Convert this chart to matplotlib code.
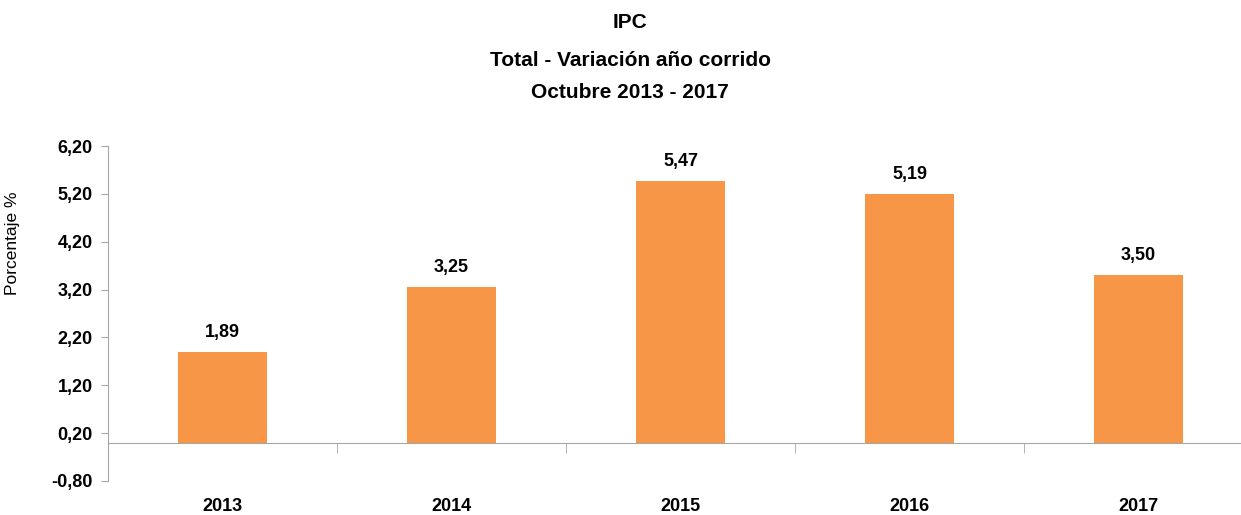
import numpy as np
import matplotlib.pyplot as plt
from matplotlib.ticker import FixedLocator

plt.rcParams['font.family'] = ['Liberation Sans Narrow', 'Liberation Sans', 'DejaVu Sans']

years = ["2013", "2014", "2015", "2016", "2017"]
values = [1.89, 3.25, 5.47, 5.19, 3.50]
yticks = [-0.80, 0.20, 1.20, 2.20, 3.20, 4.20, 5.20, 6.20]

bar_color = "#F79646"
axis_color = "#A6A6A6"

fig = plt.figure(figsize=(12.41, 5.15), dpi=100)
ax = fig.add_axes([108 / 1241, 34 / 515, 1145 / 1241, 335 / 515])

x = np.arange(len(years))
ax.bar(x, values, width=0.39, color=bar_color, zorder=2)

for xi, v in zip(x, values):
    ax.annotate(f"{v:.2f}".replace(".", ","), (xi, v), xytext=(0, 8),
                textcoords="offset points", ha="center", va="bottom",
                fontsize=13, fontweight="bold", color="black")

ax.set_xlim(-0.5, len(years) - 0.5)
ax.set_ylim(-0.80, 6.20)
ax.set_yticks(yticks)
ax.set_yticklabels([f"{t:.2f}".replace(".", ",") for t in yticks],
                   fontsize=13, fontweight="bold")

# category axis sits on zero
ax.spines["bottom"].set_position(("data", 0))
ax.spines["bottom"].set_color(axis_color)
ax.spines["left"].set_color(axis_color)
ax.spines["top"].set_visible(False)
ax.spines["right"].set_visible(False)

ax.set_xticks(x)
ax.set_xticklabels(years, fontsize=13, fontweight="bold")
ax.tick_params(axis="x", which="major", length=0, pad=40)
ax.xaxis.set_minor_locator(FixedLocator(np.arange(0.5, len(years), 1.0)))
ax.tick_params(axis="x", which="minor", length=7, color=axis_color, direction="out")
ax.tick_params(axis="y", length=5, color=axis_color, pad=6)

ax.set_ylabel("Porcentaje %", fontsize=12.5)
ax.yaxis.set_label_coords(-0.077, 0.71)

fig.text(630 / 1241, 1 - 22 / 515, "IPC", ha="center", va="center",
         fontsize=15, fontweight="bold")
fig.text(630 / 1241, 1 - 60 / 515, "Total - Variación año corrido", ha="center",
         va="center", fontsize=15, fontweight="bold")
fig.text(630 / 1241, 1 - 93 / 515, "Octubre 2013 - 2017", ha="center",
         va="center", fontsize=15, fontweight="bold")

fig.savefig("out.png", dpi=100)
